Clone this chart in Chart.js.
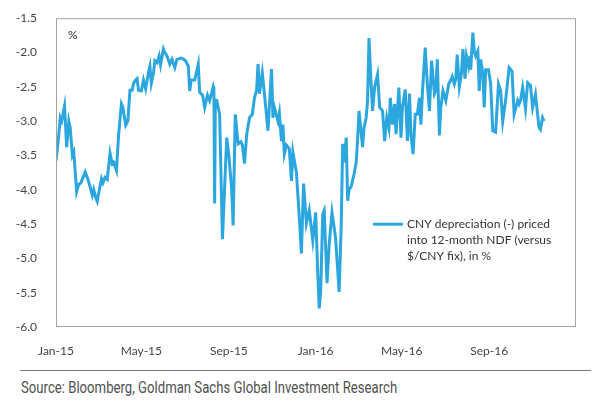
<!DOCTYPE html>
<html>
<head>
<meta charset="utf-8">
<script src="https://cdn.jsdelivr.net/npm/chart.js@4"></script>
<style>
  html, body { margin: 0; padding: 0; background: #fff; }
  #wrap { position: relative; width: 600px; height: 410px; }
  #chart { position: absolute; left: 0; top: 0; }
  #rule { position: absolute; left: 20px; top: 370px; width: 571px; height: 0; border-top: 1px solid #7a7a7a; }
  #source {
    position: absolute; left: 21px; top: 377px;
    font-family: Roboto, "Liberation Sans", sans-serif;
    font-size: 17px; color: #505050; white-space: nowrap;
    transform-origin: left top;
  }
</style>
</head>
<body>
<div id="wrap">
  <canvas id="chart" width="600" height="360"></canvas>
  <div id="rule"></div>
  <div id="source">Source: Bloomberg, Goldman Sachs Global Investment Research</div>
</div>
<script>
// days since 1 Jan 2015
const days = [
  0, 3, 6, 8, 12, 15, 18, 20, 23, 25,
  29, 32, 35, 41, 45, 48, 51, 53, 56, 58,
  60, 64, 66, 69, 72, 76, 79, 81, 85, 88,
  92, 94, 98, 101, 104, 107, 109, 112, 114, 116,
  120, 123, 126, 130, 132, 134, 137, 139, 142, 145,
  147, 151, 153, 156, 160, 163, 167, 170, 176, 180,
  182, 186, 188, 190, 195, 200, 202, 206, 209, 213,
  216, 221, 222, 223, 224, 226, 230, 234, 240, 243,
  247, 249, 252, 256, 260, 262, 265, 268, 272, 276,
  279, 282, 284, 286, 290, 293, 298, 303, 305, 307,
  312, 314, 317, 319, 321, 324, 328, 331, 333, 338,
  342, 345, 348, 352, 356, 361, 365, 368, 370, 372,
  375, 377, 381, 384, 388, 393, 398, 401, 403, 405,
  408, 410, 412, 415, 419, 422, 424, 426, 431, 433,
  436, 438, 440, 443, 445, 448, 452, 455, 459, 462,
  465, 468, 470, 473, 476, 478, 482, 485, 487, 491,
  494, 497, 499, 502, 505, 508, 511, 513, 515, 519,
  522, 525, 528, 532, 534, 536, 539, 541, 544, 548,
  552, 555, 557, 560, 562, 564, 567, 570, 572, 575,
  577, 580, 582, 583, 586, 588, 590, 593, 595, 597,
  600, 602, 604, 608, 611, 614, 618, 622, 625, 628,
  632, 637, 641, 644, 649, 651, 653, 656, 660, 663,
  667, 670, 674, 679, 681, 684, 686
];

// CNY depreciation priced into 12-month NDF, %
const depreciation = [
  -3.58, -3.3, -2.95, -3.0, -2.78, -3.38, -3.0, -3.1, -3.5, -3.45,
  -4.03, -3.92, -3.9, -3.74, -3.85, -3.96, -4.08, -4.0, -4.12, -4.17,
  -4.05, -3.84, -3.9, -3.82, -3.85, -3.47, -3.62, -3.6, -3.72, -3.2,
  -2.75, -2.8, -3.06, -3.0, -2.55, -2.55, -2.45, -2.4, -2.38, -2.55,
  -2.56, -2.4, -2.53, -2.29, -2.2, -2.45, -2.3, -2.12, -2.15, -2.05,
  -2.18, -1.95, -2.0, -2.05, -2.17, -2.1, -2.22, -2.1, -2.08, -2.1,
  -2.12, -2.2, -2.56, -2.4, -2.4, -2.17, -2.58, -2.62, -2.8, -2.62,
  -2.7, -2.5, -2.55, -4.2, -2.7, -2.7, -2.9, -4.72, -3.24, -3.5,
  -4.0, -4.52, -2.9, -3.33, -3.3, -3.35, -3.62, -3.2, -2.95, -2.9,
  -2.66, -2.55, -2.17, -2.6, -2.3, -2.6, -3.14, -2.24, -2.95, -2.8,
  -3.0, -2.88, -3.29, -3.05, -3.48, -3.35, -3.4, -3.87, -3.45, -3.75,
  -4.4, -4.93, -3.91, -4.49, -4.3, -4.74, -4.33, -5.22, -5.73, -5.5,
  -4.35, -4.3, -5.36, -4.8, -4.33, -4.7, -5.49, -4.5, -3.33, -3.6,
  -3.24, -4.16, -4.0, -3.95, -3.77, -3.6, -3.26, -2.85, -3.38, -3.1,
  -2.95, -2.7, -1.79, -2.46, -2.85, -2.5, -2.32, -2.8, -2.85, -3.29,
  -2.95, -3.1, -2.66, -3.05, -2.75, -3.19, -2.51, -3.24, -2.8, -2.54,
  -3.29, -2.6, -3.2, -3.48, -2.9, -2.9, -2.66, -3.05, -2.6, -1.93,
  -2.46, -2.85, -2.12, -2.6, -2.55, -2.1, -3.21, -2.8, -2.56, -2.7,
  -2.46, -2.4, -2.35, -2.46, -2.38, -2.03, -2.5, -2.3, -1.95, -2.38,
  -2.05, -2.2, -2.05, -2.25, -1.71, -1.98, -2.05, -1.98, -2.56, -2.1,
  -2.3, -2.8, -2.25, -2.25, -2.45, -3.14, -3.16, -2.46, -2.55, -3.0,
  -2.7, -2.22, -2.27, -2.9, -2.7, -2.75, -2.7, -2.51, -2.82, -2.44,
  -2.48, -2.8, -2.61, -3.09, -3.12, -2.95, -3.0
];

const tickDays = [0, 120, 243, 365, 486, 609];
const tickLabels = ['Jan-15', 'May-15', 'Sep-15', 'Jan-16', 'May-16', 'Sep-16'];
const legendLines = ['CNY depreciation (-) priced', 'into 12-month NDF (versus', '$/CNY fix), in %'];

const LINE_COLOR = '#2ba6de';
const FONT = 'Lato, "Liberation Sans", sans-serif';

// squeeze the source line to the condensed width of the original
const src = document.getElementById('source');
src.style.transform = 'scaleX(' + (376 / src.offsetWidth) + ')';

// box, "%" unit and in-plot legend
const decorations = {
  id: 'decorations',
  afterDraw(chart) {
    const { ctx, chartArea: a } = chart;
    ctx.save();
    ctx.strokeStyle = '#a3a3a3';
    ctx.lineWidth = 1;
    ctx.strokeRect(a.left + 0.5, a.top + 0.5, a.right - a.left - 1, a.bottom - a.top - 1);

    ctx.fillStyle = '#333';
    ctx.font = '12px ' + FONT;
    ctx.textBaseline = 'middle';
    ctx.fillText('%', a.left + 12, a.top + 17);

    const lx = a.left + 317, ly = a.top + 206;
    ctx.strokeStyle = LINE_COLOR;
    ctx.lineWidth = 3;
    ctx.beginPath();
    ctx.moveTo(lx, ly);
    ctx.lineTo(lx + 30, ly);
    ctx.stroke();
    legendLines.forEach((t, i) => ctx.fillText(t, lx + 34, ly + i * 16));
    ctx.restore();
  }
};

new Chart(document.getElementById('chart'), {
  type: 'line',
  data: {
    datasets: [{
      label: legendLines.join(' '),
      data: days.map((d, i) => ({ x: d, y: depreciation[i] })),
      borderColor: LINE_COLOR,
      borderWidth: 3,
      pointRadius: 0,
      tension: 0,
      fill: false
    }]
  },
  options: {
    responsive: false,
    animation: false,
    layout: { padding: { left: 0, right: 24, top: 17, bottom: 0 } },
    plugins: {
      legend: { display: false },
      tooltip: { enabled: false }
    },
    scales: {
      x: {
        type: 'linear',
        min: 0,
        max: 731,
        grid: { display: false },
        border: { display: false },
        afterBuildTicks: (scale) => { scale.ticks = tickDays.map(v => ({ value: v })); },
        afterFit: (scale) => { scale.height = 33; },
        ticks: {
          padding: 9,
          maxRotation: 0,
          autoSkip: false,
          color: '#444',
          font: { family: FONT, size: 12 },
          callback: (v, i) => tickLabels[i]
        }
      },
      y: {
        min: -6,
        max: -1.5,
        grid: { display: false },
        border: { display: false },
        afterFit: (scale) => { scale.width = 56; },
        ticks: {
          stepSize: 0.5,
          padding: 11,
          color: '#444',
          font: { family: FONT, size: 12 },
          callback: (v) => v.toFixed(1)
        }
      }
    }
  },
  plugins: [decorations]
});
</script>
</body>
</html>
